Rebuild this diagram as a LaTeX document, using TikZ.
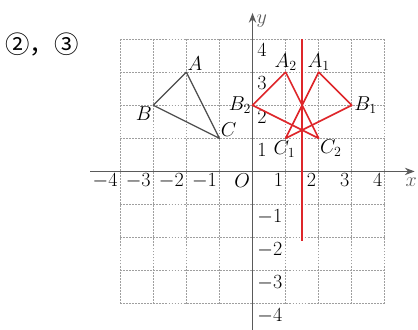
\documentclass[tikz,border=0pt]{standalone}
\usepackage{fontspec}
\newfontfamily\cjk{Noto Sans CJK SC}
\usepackage{tikz}
\usetikzlibrary{arrows.meta}
\definecolor{redline}{RGB}{222,38,42}
\definecolor{axisgray}{RGB}{90,90,90}

\begin{document}
\begin{tikzpicture}[>=Stealth,font=\fontsize{16.5}{19}\selectfont,
    gridline/.style={gray!75,dash pattern=on 1.6pt off 1pt,line width=0.75pt},
    axisline/.style={axisgray,line width=1.2pt,->},
    blacktri/.style={black!70,line width=1.1pt,line join=round},
    redtri/.style={redline,line width=1.4pt,line join=round},
    ticklabel/.style={inner sep=2pt}]
    \useasboundingbox (-7.63,-4.79) rectangle (5.0,5.18);
    \draw[gridline] (-4,-4) grid (4,4);
    \draw[axisline] (-4.9,0) -- (4.9,0) node[below,xshift=-3pt,inner sep=5pt] (xlab) {$x$};
    \draw[axisline] (0,-4.79) -- (0,4.79) node[below right,xshift=2pt,inner sep=1pt] (ylab) {$y$};
    \foreach \i in {-4,-3,-2,-1,1,2,3,4} {
        \node[below left,ticklabel] (x\i) at (\i,0) {$\i$};
        \node[below right,ticklabel,xshift=2pt,yshift=-2pt] (y\i) at (0,\i) {$\i$};
    }
    \node[below left,ticklabel] (o) at (0,0) {$O$};
    % triangle ABC and its two images
    \coordinate (A) at (-2,3);
    \coordinate (B) at (-3,2);
    \coordinate (C) at (-1,1);
    \coordinate (A1) at (2,3);
    \coordinate (B1) at (3,2);
    \coordinate (C1) at (1,1);
    \coordinate (A2) at (1,3);
    \coordinate (B2) at (0,2);
    \coordinate (C2) at (2,1);
    \coordinate (L1) at (1.5,4);
    \coordinate (L2) at (1.5,-2.1);
    \draw[blacktri] (A) -- (B) -- (C) -- cycle;
    \draw[redtri] (A1) -- (B1) -- (C1) -- cycle;
    \draw[redtri] (A2) -- (B2) -- (C2) -- cycle;
    \draw[redtri] (L1) -- (L2);
    \node[above right,inner sep=1pt] (la) at (A) {$A$};
    \node[below left,inner sep=1pt] (lb) at (B) {$B$};
    \node[above right,inner sep=1pt] (lc) at (C) {$C$};
    \node[above,inner sep=1pt] (la1) at (A1) {$A_1$};
    \node[right,inner sep=2pt] (lb1) at (B1) {$B_1$};
    \node[below,xshift=-1pt,inner sep=2pt] (lc1) at (C1) {$C_1$};
    \node[above,inner sep=1pt] (la2) at (A2) {$A_2$};
    \node[left,inner sep=1pt] (lb2) at (B2) {$B_2$};
    \node[below right,inner sep=1pt] (lc2) at (C2) {$C_2$};
    \node[font=\cjk\fontsize{21}{24}\selectfont] (tag) at (-6.36,3.85) {②，③};
\end{tikzpicture}
\end{document}
